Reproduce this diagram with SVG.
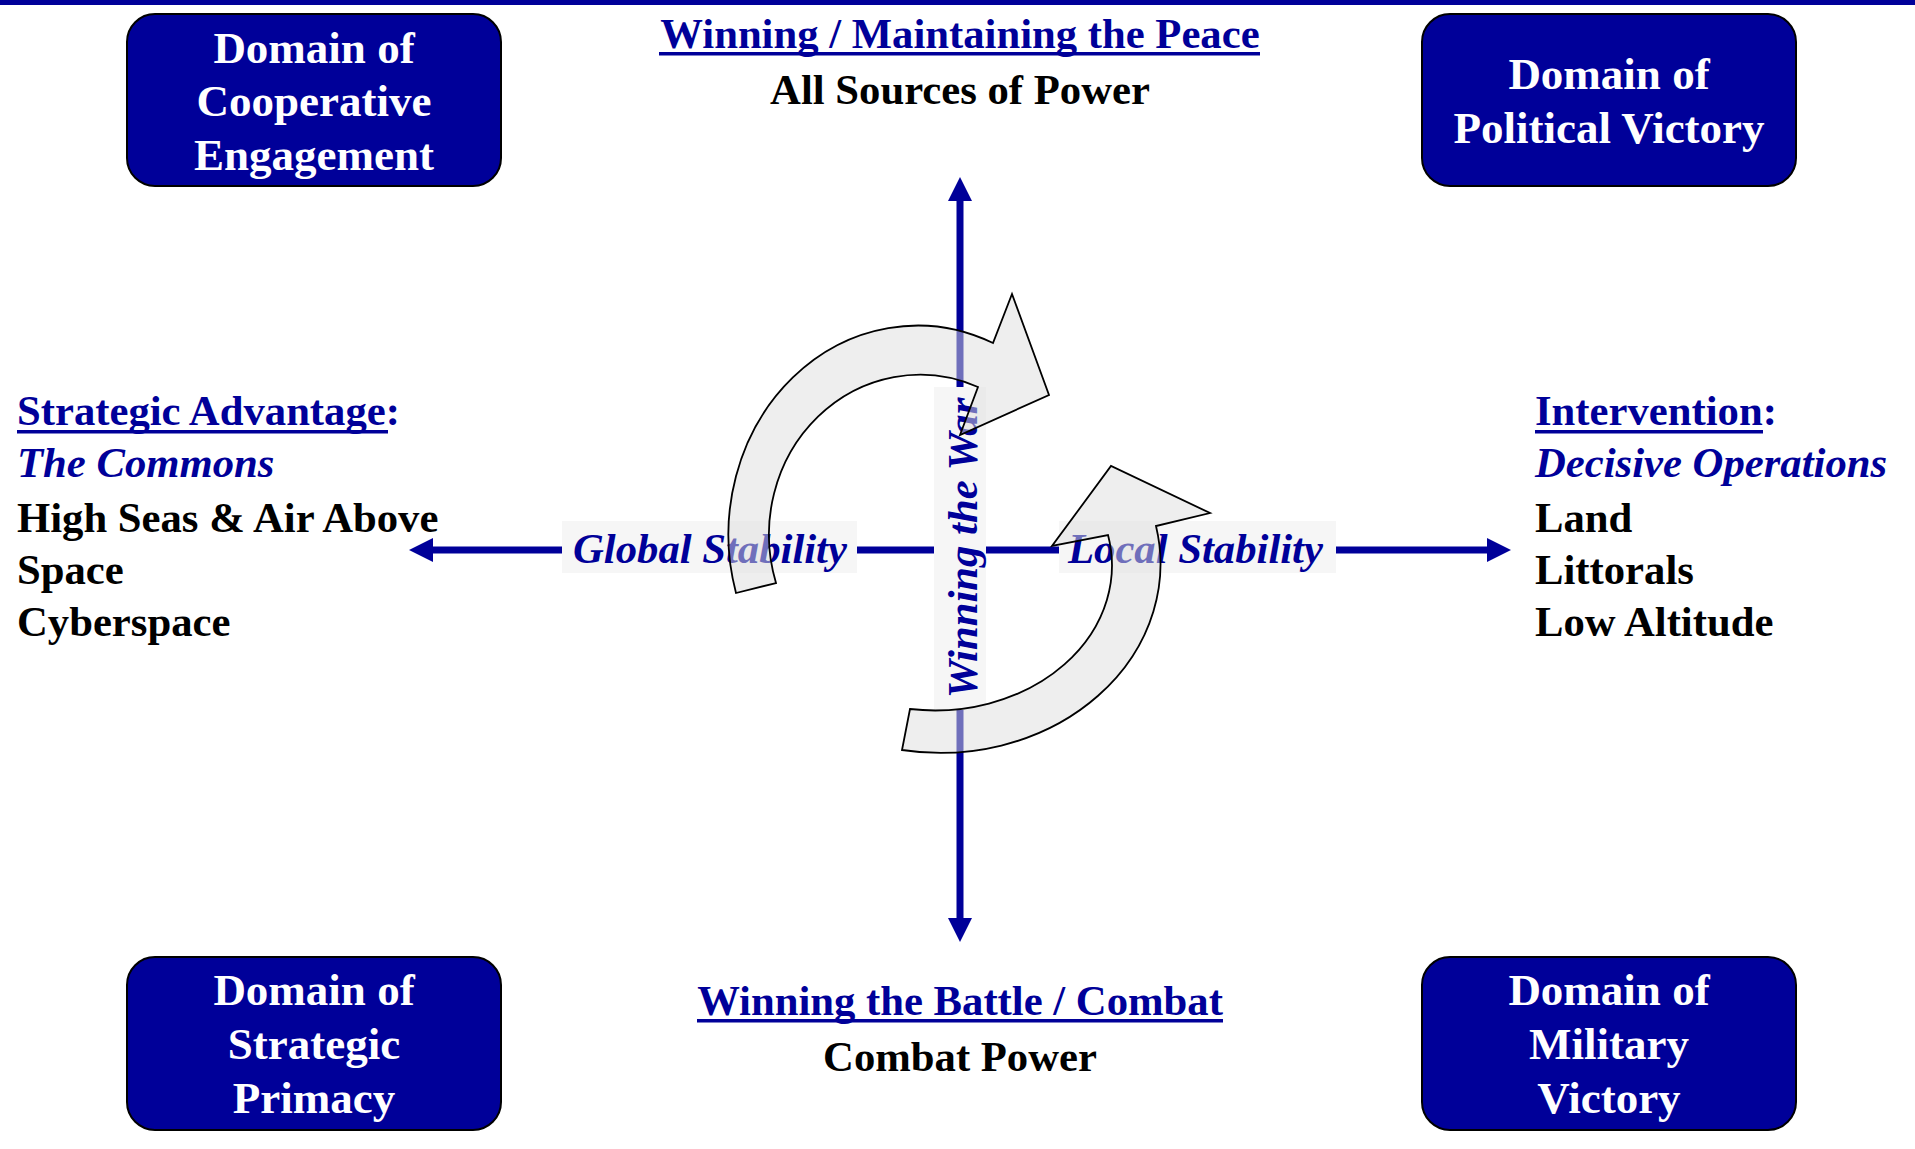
<svg xmlns="http://www.w3.org/2000/svg" width="1915" height="1149" viewBox="0 0 1915 1149">
<style>
.box{fill:#000099;stroke:#000;stroke-width:2}
.boxt{font-family:"Liberation Serif","Times New Roman",serif;font-weight:bold;font-size:45px;fill:#fff;text-anchor:middle}
.t{font-family:"Liberation Serif","Times New Roman",serif;font-weight:bold;font-size:42.7px}
.navy{fill:#000099}
.black{fill:#000}
.it{font-style:italic}
.mid{text-anchor:middle}
.axis{stroke:#000099;stroke-width:7;fill:none}
.lblbg{fill:#f6f6f6}
.cyc{fill:#dddddd;fill-opacity:0.5;stroke:#000;stroke-width:1.8;stroke-linejoin:miter}
</style>
<defs>
<marker id="ah" markerUnits="userSpaceOnUse" markerWidth="24" markerHeight="24" refX="0" refY="12" orient="auto-start-reverse" viewBox="0 0 24 24">
<path d="M0,0 L24,12 L0,24 Z" fill="#000099"/>
</marker>
</defs>
<rect x="0" y="0" width="1915" height="5" fill="#000099"/>

<g id="box-cooperative-engagement">
<rect class="box" x="127" y="14" width="374" height="172" rx="28"/>
<text class="boxt" x="314" y="63">Domain of</text>
<text class="boxt" x="314" y="116">Cooperative</text>
<text class="boxt" x="314" y="170">Engagement</text>
</g>
<g id="box-political-victory">
<rect class="box" x="1422" y="14" width="374" height="172" rx="28"/>
<text class="boxt" x="1609" y="89">Domain of</text>
<text class="boxt" x="1609" y="143">Political Victory</text>
</g>
<g id="box-strategic-primacy">
<rect class="box" x="127" y="957" width="374" height="173" rx="28"/>
<text class="boxt" x="314" y="1005">Domain of</text>
<text class="boxt" x="314" y="1059">Strategic</text>
<text class="boxt" x="314" y="1113">Primacy</text>
</g>
<g id="box-military-victory">
<rect class="box" x="1422" y="957" width="374" height="173" rx="28"/>
<text class="boxt" x="1609" y="1005">Domain of</text>
<text class="boxt" x="1609" y="1059">Military</text>
<text class="boxt" x="1609" y="1113">Victory</text>
</g>

<g id="top-peace">
<text class="t navy mid" x="960" y="48">Winning / Maintaining the Peace</text>
<rect class="navy" x="659" y="52" width="601" height="3.5"/>
<text class="t black mid" x="960" y="104">All Sources of Power</text>
</g>
<g id="bottom-combat">
<text class="t navy mid" x="960" y="1015">Winning the Battle / Combat</text>
<rect class="navy" x="697" y="1019" width="526" height="3.5"/>
<text class="t black mid" x="960" y="1071">Combat Power</text>
</g>
<g id="left-strategic-advantage">
<text class="t navy" x="17" y="425">Strategic Advantage:</text>
<rect class="navy" x="17" y="430" width="371" height="3.5"/>
<text class="t navy it" x="17" y="477">The Commons</text>
<text class="t black" x="17" y="532">High Seas &amp; Air Above</text>
<text class="t black" x="17" y="584">Space</text>
<text class="t black" x="17" y="636">Cyberspace</text>
</g>
<g id="right-intervention">
<text class="t navy" x="1535" y="425">Intervention:</text>
<rect class="navy" x="1535" y="430" width="228" height="3.5"/>
<text class="t navy it" x="1535" y="477">Decisive Operations</text>
<text class="t black" x="1535" y="532">Land</text>
<text class="t black" x="1535" y="584">Littorals</text>
<text class="t black" x="1535" y="636">Low Altitude</text>
</g>

<g id="connectors">
<line class="axis" x1="960" y1="201" x2="960" y2="918" marker-start="url(#ah)" marker-end="url(#ah)"/>
<line class="axis" x1="433" y1="550" x2="1487" y2="550" marker-start="url(#ah)" marker-end="url(#ah)"/>
</g>

<g id="axis-labels">
<g id="label-global-stability">
<rect class="lblbg" x="562" y="521" width="295" height="52"/>
<text class="t navy it" x="573" y="563">Global Stability</text>
</g>
<g id="label-local-stability">
<rect class="lblbg" x="1059" y="521" width="277" height="52"/>
<text class="t navy it" x="1068" y="563">Local Stability</text>
</g>
<g id="label-winning-the-war">
<rect class="lblbg" x="934" y="387" width="52" height="323"/>
<text class="t navy it mid" transform="translate(977,548) rotate(-90)">Winning the War</text>
</g>
</g>

<g id="cycle-arrows">
<path id="cycle-upper" class="cyc" d="M736,593 A189,209 0 0 1 993,343 L1012,294 L1049,395 L960,435 L978,387 A151,160 0 0 0 776,583 Z"/>
<path id="cycle-lower" class="cyc" d="M902,750 A220,189 0 0 0 1156,526 L1210,513 L1111,466 L1052,546 L1108,535 A177,145 0 0 1 910,709 Z"/>
</g>
</svg>
